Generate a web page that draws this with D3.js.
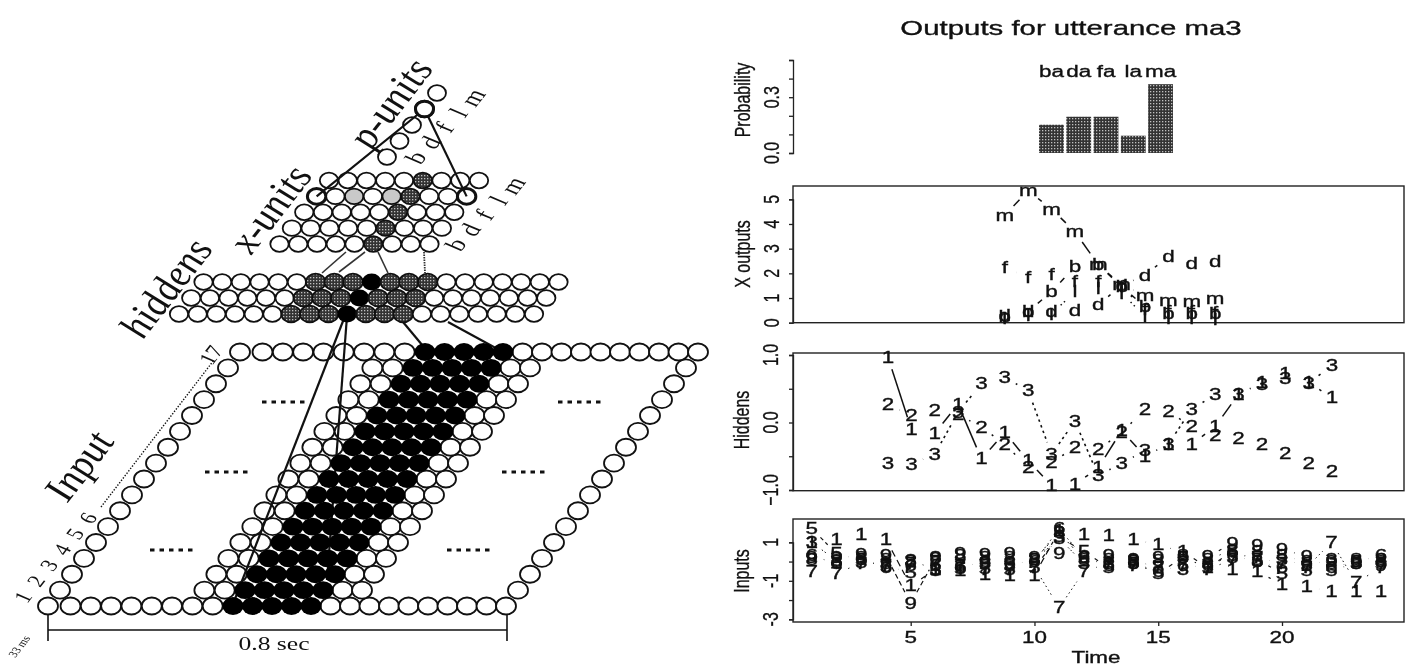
<!DOCTYPE html>
<html>
<head>
<meta charset="utf-8">
<script src="https://cdn.jsdelivr.net/npm/d3@7"></script>
<style>
html, body { margin: 0; background: #fff; }
svg { display: block; filter: blur(0.35px); }
</style>
</head>
<body>
<svg id="chart" width="1405" height="667"></svg>
<script>
// network diagram, left side
var inputRows = d3.range(17);
var inputCols = d3.range(24);
var activeCols = [9, 10, 11, 12, 13];
var sideCols = [7, 8, 14, 15];
var hiddenCols = d3.range(20);
var hiddenRows = [0, 1, 2];
var hiddenGray = [6, 7, 8, 10, 11, 12];
var hiddenBlack = [9];
var xRows = [0, 1, 2, 3, 4];
var xCols = d3.range(9);
var pUnits = [0, 1, 2, 3, 4];
var unitNames = ["b", "d", "f", "l", "m"];
var rowNumbers = ["1", "2", "3", "4", "5", "6"];

// right side values
var syllables = ["ba", "da", "fa", "la", "ma"];
var probs = [0.152, 0.195, 0.195, 0.093, 0.37];

var xTimes = [9, 10, 11, 12, 13, 14, 15, 16, 17, 18];
var xOutM = [4.36, 5.35, 4.6, 3.69, 2.34, 1.53, 1.12, 0.88, 0.85, 1.0];
var xOutB = [0.24, 0.45, 1.26, 2.27, 2.34, 1.46, 0.65, 0.38, 0.38, 0.39];
var xOutD = [0.3, 0.45, 0.45, 0.51, 0.74, 1.5, 1.93, 2.68, 2.4, 2.5];
var xOutF = [2.23, 1.84, 1.96, 1.66, 1.66, 1.45, 0.55, 0.45, 0.45, 0.4];
var xOutL = [0.15, 0.3, 0.35, 1.26, 1.39, 1.2, 0.25, 0.15, 0.15, 0.12];

var hidTimes = [4, 5, 6, 7, 8, 9, 10, 11, 12, 13, 14, 15, 16, 17, 18, 19, 20, 21, 22, 23];
var hid1 = [0.965, -0.1, -0.16, 0.27, -0.54, -0.15, -0.57, -0.93, -0.92, -0.67, -0.12, -0.5, -0.32, -0.32, -0.06, 0.42, 0.59, 0.72, 0.59, 0.37];
var hid2 = [0.26, 0.11, 0.18, 0.12, -0.07, -0.32, -0.67, -0.59, -0.37, -0.4, -0.15, 0.2, 0.16, -0.06, -0.19, -0.24, -0.33, -0.46, -0.6, -0.72];
var hid3 = [-0.6, -0.62, -0.47, 0.15, 0.58, 0.67, 0.47, -0.47, 0.02, -0.79, -0.6, -0.42, -0.32, 0.2, 0.41, 0.42, 0.57, 0.65, 0.58, 0.85];

var inTimes = d3.range(1, 25);
var in1 = [1.0, 1.16, 1.38, 1.16, -1.27, -0.4, -0.44, -0.65, -0.7, -0.7, 1.6, 1.38, 1.33, 1.16, 0.86, 0.5, -0.3, -0.4, -0.53, -1.17, -1.3, -1.57, -1.57, -1.57];
var in9 = [0.2, 0.2, 0.35, 0.3, -2.17, 0.15, 0.4, 0.35, 0.4, 0.2, 0.43, 0.2, 0.3, 0.1, 0.2, 0.2, 0.25, 0.95, 0.85, 0.65, 0.25, 0, 0, -0.2];
var in5 = [1.73, 0.4, 0.1, -0.25, -0.55, -0.45, -0.35, -0.35, -0.4, -0.3, 1.3, 0.5, -0.3, -0.1, -0.6, 0.2, -0.3, 0.5, 0.1, -0.61, -0.44, -0.44, -0.1, -0.1];
var in3 = [1.0, 0.05, -0.05, -0.1, 0.05, -0.4, -0.2, -0.1, -0.2, 0.1, 1.2, -0.1, -0.1, 0.05, -0.3, -0.4, -0.1, 0.2, 0, 0.1, -0.2, 0.1, -0.1, 0];
var in7 = [-0.5, -0.6, -0.1, -0.2, -0.1, 0, -0.2, -0.4, -0.4, -0.3, -2.4, -0.5, -0.1, -0.2, -0.3, -0.2, -0.4, 0.1, 0.2, -0.1, -0.3, 1.0, -1.1, -0.3];
var in8 = [0.1, 0, 0.2, 0.1, 0, 0.2, 0.3, 0.2, 0.2, 0.1, 1.5, 0.1, 0.1, 0, 0.05, 0.3, 0.1, 0.6, 0.5, 0.3, 0, -0.1, 0.1, 0.1];
var in6 = [0.3, -0.1, 0.1, -0.3, -0.2, -0.2, -0.3, 0, -0.1, 0, 1.7, 0.2, -0.2, -0.1, -0.5, -0.2, -0.2, 0.3, 0, -0.3, -0.1, -0.3, 0, 0.3];

var svg = d3.select("#chart");
var stretch = 1.35;

var defs = svg.append("defs");
var pat = defs.append("pattern").attr("id", "stipple")
    .attr("width", 3).attr("height", 3).attr("patternUnits", "userSpaceOnUse");
pat.append("rect").attr("width", 3).attr("height", 3).attr("fill", "#333");
pat.append("rect").attr("x", 1).attr("y", 1).attr("width", 1.3).attr("height", 1.3).attr("fill", "#c0c0c0");

function serifLabel(x, y, s, size, angle, italic) {
    svg.append("text")
        .attr("transform", "translate(" + x + "," + y + ") scale(" + stretch + ",1) rotate(" + (-angle) + ")")
        .attr("text-anchor", "middle")
        .attr("font-family", "Liberation Serif")
        .attr("font-style", italic ? "italic" : "normal")
        .attr("font-size", size)
        .attr("fill", "#111")
        .text(s);
}

function sansLabel(x, y, s, size) {
    return svg.append("text")
        .attr("transform", "translate(" + x + "," + y + ") scale(1.4,1)")
        .attr("text-anchor", "middle")
        .attr("font-family", "Liberation Sans")
        .attr("font-size", size)
        .attr("fill", "#111")
        .attr("stroke", "#111")
        .attr("stroke-width", 0.35)
        .text(s);
}

function sansSide(x, y, s, size) {
    return svg.append("text")
        .attr("transform", "translate(" + x + "," + y + ") rotate(-90) scale(1,1.35)")
        .attr("text-anchor", "middle")
        .attr("font-family", "Liberation Sans")
        .attr("font-size", size)
        .attr("fill", "#111")
        .attr("stroke", "#111")
        .attr("stroke-width", 0.25)
        .text(s);
}

function unit(g, x, y, rx, ry, kind, bold) {
    g.append("ellipse")
        .attr("cx", x).attr("cy", y).attr("rx", rx).attr("ry", ry)
        .attr("fill", kind == "black" ? "#000" : kind == "gray" ? "url(#stipple)" : kind == "light" ? "#c9c9c9" : "#fff")
        .attr("stroke", kind == "black" ? "none" : "#111")
        .attr("stroke-width", bold ? 3 : 1.8);
}

function wire(x1, y1, x2, y2, w, dash, col) {
    svg.append("line")
        .attr("x1", x1).attr("y1", y1).attr("x2", x2).attr("y2", y2)
        .attr("stroke", col || "#111")
        .attr("stroke-width", w)
        .attr("stroke-dasharray", dash || null);
}

// input lattice, columns are a little wider on the left of the scan
var colX = d3.scaleLinear().domain([0, 1, 9, 23]).range([48, 70.5, 233, 506]);
var rowY = d3.scaleLinear().domain([0, 16]).range([606, 352]);
var rowSkew = d3.scaleLinear().domain([0, 16]).range([0, 192]);

var inputG = svg.append("g");
inputRows.forEach(function(r) {
    inputCols.forEach(function(c) {
        var edge = r == 0 || r == 16 || c == 0 || c == 23;
        var on = activeCols.indexOf(c) >= 0;
        var side = sideCols.indexOf(c) >= 0;
        if (!edge && !on && !side) return;
        if (on) return;
        unit(inputG, colX(c) + rowSkew(r), rowY(r), 10, 8.5, "white");
    });
});

// thick wires hidden -> input
wire(345, 316, 233, 604, 2.2);
wire(347, 316, 327, 580, 2.2);
wire(403, 322, 428, 352, 2.2);
wire(448, 322, 503, 352, 2.2);

var activeG = svg.append("g");
inputRows.forEach(function(r) {
    activeCols.forEach(function(c) {
        unit(activeG, colX(c) + rowSkew(r), rowY(r), 10.6, 8.9, "black");
    });
});

// hidden layer
var hidX = d3.scaleLinear().domain([0, 19]).range([179, 534]);
var hidY = d3.scaleLinear().domain([0, 2]).range([314, 282]);
var hidSkew = d3.scaleLinear().domain([0, 2]).range([0, 24.5]);
var hiddenG = svg.append("g");
hiddenRows.forEach(function(r) {
    hiddenCols.forEach(function(c) {
        var kind = hiddenBlack.indexOf(c) >= 0 ? "black" : hiddenGray.indexOf(c) >= 0 ? "gray" : "white";
        unit(hiddenG, hidX(c) + hidSkew(r), hidY(r), kind == "white" ? 9.2 : 9.8, kind == "white" ? 7.8 : 8.4, kind);
    });
});

// wires hidden -> x units
wire(346, 252, 322, 273, 1.6, null, "#333");
wire(365, 252, 339, 272, 1.6, null, "#333");
wire(378, 252, 388, 273, 1.6, null, "#333");
wire(424, 252, 425, 273, 1.8, "1.5 1", "#333");

// x units
var xuX = d3.scaleLinear().domain([0, 8]).range([279.5, 429.5]);
var xuY = d3.scaleLinear().domain([0, 4]).range([244, 180.5]);
var xuSkew = d3.scaleLinear().domain([0, 4]).range([0, 49.5]);
var xuG = svg.append("g");
xRows.forEach(function(r) {
    xCols.forEach(function(c) {
        var kind = c == 5 ? "gray" : (r == 3 && (c == 2 || c == 4)) ? "light" : "white";
        var bold = r == 3 && (c == 0 || c == 8);
        unit(xuG, xuX(c) + xuSkew(r), xuY(r), 9.2, 7.8, kind, bold);
    });
});

// p units
var pX = d3.scaleLinear().domain([0, 4]).range([387, 437]);
var pY = d3.scaleLinear().domain([0, 4]).range([157, 93]);
var pG = svg.append("g");
pUnits.forEach(function(i) {
    unit(pG, pX(i), pY(i), 9, 7.8, "white", i == 3);
});
wire(pX(3), pY(3), xuX(0) + xuSkew(3), xuY(3), 2.2);
wire(pX(3), pY(3), xuX(8) + xuSkew(3), xuY(3), 2.2);
svg.append("g").call(function(g) { unit(g, pX(3), pY(3), 9, 7.8, "white", true); });

// letters next to the x and p rows
var xNameX = d3.scaleLinear().domain([0, 4]).range([464, 521]);
var xNameY = d3.scaleLinear().domain([0, 4]).range([248, 189]);
var pNameX = d3.scaleLinear().domain([0, 4]).range([424, 481]);
var pNameY = d3.scaleLinear().domain([0, 4]).range([161, 101]);
unitNames.forEach(function(n, i) {
    serifLabel(xNameX(i), xNameY(i), n, 21, 60);
    serifLabel(pNameX(i), pNameY(i), n, 21, 60);
});

// layer names
serifLabel(92, 472, "Input", 34, 60, true);
serifLabel(179, 294, "hiddens", 34, 60, true);
serifLabel(283, 215, "x-units", 34, 60, true);
serifLabel(403, 109, "p-units", 34, 60, true);

// row numbers, dotted run up to 17, ..... fillers
var numX = d3.scaleLinear().domain([0, 5]).range([30, 95]);
var numY = d3.scaleLinear().domain([0, 5]).range([600, 521]);
rowNumbers.forEach(function(n, i) {
    serifLabel(numX(i), numY(i), n, 18, 60);
});
serifLabel(218, 358, "17", 18, 60);
wire(101, 507, 214, 360, 1.4, "1.4 1.6");

[[150, 550], [205, 472], [262, 402], [447, 550], [502, 472], [558, 402]].forEach(function(d) {
    wire(d[0], d[1], d[0] + 46, d[1], 3, "4.5 5");
});

// 0.8 sec scale bar
wire(48, 630, 507, 630, 1.6);
wire(48, 615, 48, 641, 1.6);
wire(507, 615, 507, 641, 1.6);
serifLabel(274, 650, "0.8 sec", 19, 0);
serifLabel(23, 648, "33 ms", 9.5, 60);

// right side
sansLabel(1071, 35, "Outputs for utterance ma3", 21);

var boxLeft = 793, boxRight = 1404;
var tInput = d3.scaleLinear().domain([5, 20]).range([910.7, 1282]);
var tHidden = d3.scaleLinear().domain([4, 23]).range([888, 1332]);

function panelBox(top, bottom) {
    svg.append("rect")
        .attr("x", boxLeft).attr("y", top)
        .attr("width", boxRight - boxLeft).attr("height", bottom - top)
        .attr("fill", "none").attr("stroke", "#222").attr("stroke-width", 1.4);
}

function sideAxis(y, values) {
    svg.append("g")
        .attr("transform", "translate(" + boxLeft + ",0)")
        .call(d3.axisLeft(y).tickValues(values).tickSize(4).tickFormat(""))
        .call(function(g) {
            g.selectAll("path,line").attr("stroke", "#222").attr("stroke-width", 1.3);
        });
}

// draws one matplot-style series: glyphs with broken lines between them
function series(times, values, x, y, glyph, dash, w) {
    var gap = 12.6;
    d3.pairs(d3.zip(times, values)).forEach(function(p) {
        var x1 = x(p[0][0]), y1 = y(p[0][1]), x2 = x(p[1][0]), y2 = y(p[1][1]);
        var len = Math.hypot(x2 - x1, y2 - y1);
        if (len <= gap * 2) return;
        var ux = (x2 - x1) / len, uy = (y2 - y1) / len;
        wire(x1 + ux * gap, y1 + uy * gap, x2 - ux * gap, y2 - uy * gap, w || 1.5, dash);
    });
    times.forEach(function(t, i) {
        sansLabel(x(t), y(values[i]) + 5.5, glyph, 16);
    });
}

// probability bars
var barX = d3.scaleBand().domain(syllables).range([1039, 1173]).paddingInner(0.09);
var probY = d3.scaleLinear().domain([0, 0.5]).range([153, 60]);
sideAxis(probY, [0, 0.1, 0.2, 0.3, 0.4, 0.5]);
sansSide(779, probY(0), "0.0", 16);
sansSide(779, probY(0.3), "0.3", 16);
sansSide(750, 100, "Probability", 16);

svg.selectAll(".bar").data(syllables).enter().append("rect")
    .attr("class", "bar")
    .attr("x", function(d) { return barX(d); })
    .attr("y", function(d, i) { return probY(probs[i]); })
    .attr("width", barX.bandwidth())
    .attr("height", function(d, i) { return probY(0) - probY(probs[i]); })
    .attr("fill", "url(#stipple)");
syllables.forEach(function(s) {
    sansLabel(barX(s) + barX.bandwidth() / 2, 77, s, 16);
});

// X outputs
var xoY = d3.scaleLinear().domain([0, 5]).range([322.7, 199.3]);
panelBox(186, 322.7);
sideAxis(xoY, [0, 1, 2, 3, 4, 5]);
[0, 1, 2, 3, 4, 5].forEach(function(v) { sansSide(779, xoY(v), String(v), 16); });
sansSide(750, 254, "X outputs", 16);
series(xTimes, xOutL, tHidden, xoY, "l", "1.5 3");
series(xTimes, xOutF, tHidden, xoY, "f", "2 5");
series(xTimes, xOutD, tHidden, xoY, "d", "3 3");
series(xTimes, xOutB, tHidden, xoY, "b", "6 3");
series(xTimes, xOutM, tHidden, xoY, "m", "14 3");

// Hiddens
var hY = d3.scaleLinear().domain([-1, 1]).range([490, 355]);
panelBox(353, 490.7);
sideAxis(hY, [-1, -0.5, 0, 0.5, 1]);
[1, 0, -1].forEach(function(v) { sansSide(778, hY(v), d3.format(".1f")(v), 16); });
sansSide(749, 420, "Hiddens", 16);
series(hidTimes, hid3, tHidden, hY, "3", "2.5 3.5", 1.6);
series(hidTimes, hid2, tHidden, hY, "2", "2 6");
series(hidTimes, hid1, tHidden, hY, "1", null, 1.5);

// Inputs
var iY = d3.scaleLinear().domain([-3, 1]).range([619.3, 542.3]);
panelBox(519, 622);
sideAxis(iY, [-3, -2, -1, 0, 1]);
[1, -1, -3].forEach(function(v) { sansSide(778, iY(v), String(v), 16); });
sansSide(749, 571, "Inputs", 16);
series(inTimes, in7, tInput, iY, "7", "1.5 3", 1);
series(inTimes, in3, tInput, iY, "3", "1.5 2", 1);
series(inTimes, in6, tInput, iY, "6", "1.5 3", 1);
series(inTimes, in8, tInput, iY, "8", "2 4", 1);
series(inTimes, in5, tInput, iY, "5", "4 3", 1.2);
series(inTimes, in9, tInput, iY, "9", "5 3", 1.2);
series(inTimes, in1, tInput, iY, "1", "7 4", 1.2);

svg.append("g")
    .attr("transform", "translate(0,622)")
    .call(d3.axisBottom(tInput).tickValues([5, 10, 15, 20]).tickSize(4).tickFormat(""))
    .call(function(g) {
        g.select(".domain").remove();
        g.selectAll("line").attr("stroke", "#222").attr("stroke-width", 1.3);
    });
[5, 10, 15, 20].forEach(function(v) { sansLabel(tInput(v), 643, String(v), 16); });
sansLabel(1096, 663, "Time", 16);
</script>
</body>
</html>
